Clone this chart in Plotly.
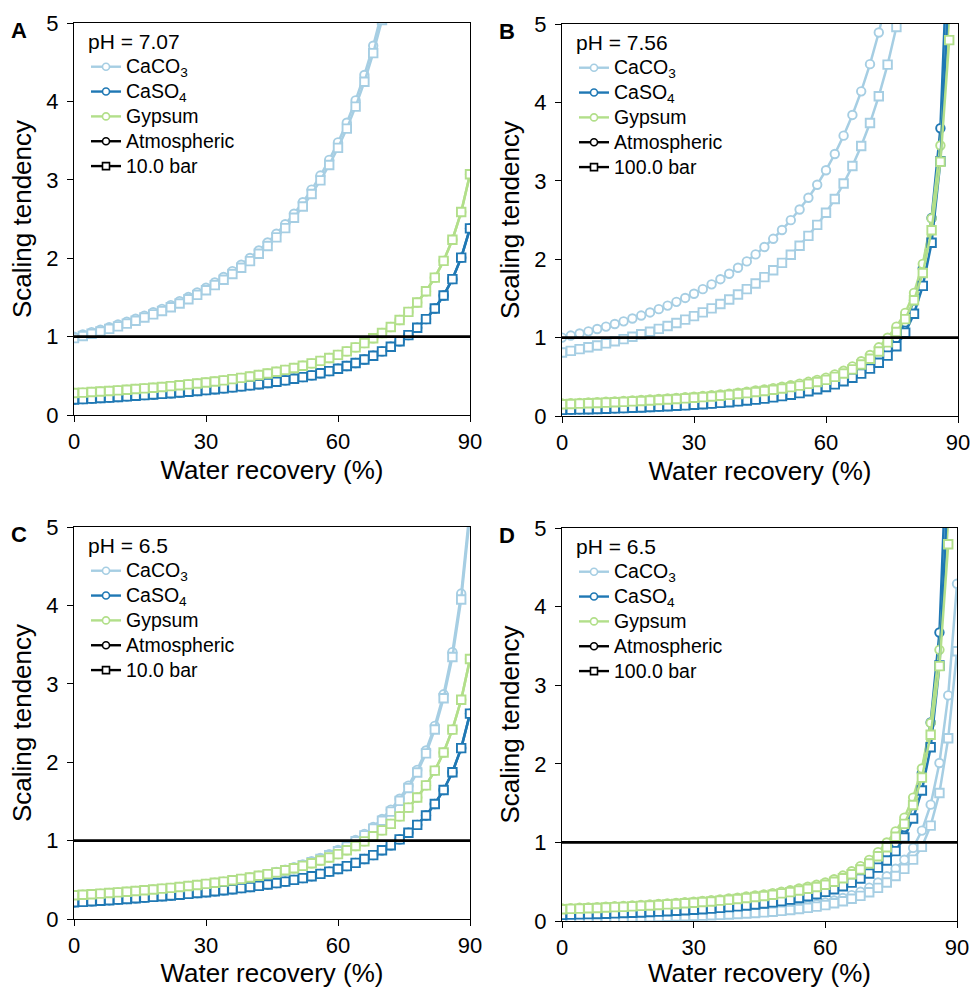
import plotly.graph_objects as go

# ---------------- data ----------------
RECOVERY = [0, 2, 4, 6, 8, 10, 12, 14, 16, 18, 20, 22, 24, 26, 28, 30, 32, 34, 36, 38,
            40, 42, 44, 46, 48, 50, 52, 54, 56, 58, 60, 62, 64, 66, 68, 70, 72, 74, 76, 78,
            80, 82, 84, 86, 88, 90]

# Panel A, pH 7.07 (atmospheric vs 10.0 bar)
A_CACO3_ATM = [1.000, 1.028, 1.057, 1.088, 1.120, 1.154, 1.190, 1.228, 1.268, 1.310, 1.354, 1.402,
               1.452, 1.506, 1.563, 1.624, 1.690, 1.760, 1.835, 1.916, 2.003, 2.098, 2.200, 2.312,
               2.433, 2.567, 2.713, 2.875, 3.054, 3.254, 3.477, 3.728, 4.013, 4.337, 4.710, 5.142, 5.648]
A_CACO3_HP = [0.980, 1.007, 1.036, 1.066, 1.098, 1.131, 1.166, 1.203, 1.243, 1.284, 1.327, 1.374,
              1.423, 1.476, 1.532, 1.592, 1.656, 1.725, 1.798, 1.878, 1.963, 2.056, 2.156, 2.266,
              2.384, 2.516, 2.659, 2.818, 2.993, 3.189, 3.407, 3.653, 3.933, 4.250, 4.616, 5.039, 5.535]
A_CASO4 = [0.197, 0.203, 0.209, 0.216, 0.222, 0.229, 0.237, 0.245, 0.253, 0.261, 0.269, 0.278,
           0.287, 0.297, 0.307, 0.317, 0.328, 0.339, 0.352, 0.365, 0.378, 0.392, 0.408, 0.424,
           0.442, 0.462, 0.483, 0.506, 0.532, 0.559, 0.590, 0.625, 0.663, 0.708, 0.755, 0.811,
           0.871, 0.940, 1.019, 1.112, 1.223, 1.358, 1.524, 1.733, 2.007, 2.380]
A_GYPSUM = [0.280, 0.286, 0.293, 0.300, 0.307, 0.314, 0.322, 0.331, 0.339, 0.348, 0.358, 0.368,
            0.379, 0.390, 0.402, 0.415, 0.428, 0.442, 0.457, 0.474, 0.491, 0.510, 0.530, 0.551,
            0.575, 0.600, 0.628, 0.658, 0.691, 0.727, 0.767, 0.812, 0.862, 0.917, 0.978, 1.046,
            1.123, 1.212, 1.315, 1.435, 1.578, 1.752, 1.966, 2.236, 2.589, 3.070]

# Panel B, pH 7.56 (atmospheric vs 100.0 bar)
B_CACO3_ATM = [1.000, 1.026, 1.052, 1.080, 1.110, 1.140, 1.173, 1.207, 1.243, 1.281, 1.321, 1.363,
               1.408, 1.456, 1.506, 1.560, 1.618, 1.679, 1.745, 1.815, 1.891, 1.972, 2.061, 2.156,
               2.260, 2.373, 2.498, 2.634, 2.784, 2.950, 3.135, 3.342, 3.576, 3.840, 4.141, 4.488,
               4.891, 5.365]
B_CACO3_HP = [0.810, 0.831, 0.853, 0.876, 0.900, 0.926, 0.953, 0.981, 1.011, 1.042, 1.075, 1.111,
              1.148, 1.187, 1.229, 1.274, 1.322, 1.373, 1.428, 1.486, 1.550, 1.618, 1.691, 1.772,
              1.859, 1.953, 2.057, 2.172, 2.298, 2.438, 2.593, 2.768, 2.965, 3.188, 3.443, 3.737,
              4.079, 4.482, 4.962, 5.542]
B_CASO4_ATM = [0.078, 0.081, 0.084, 0.087, 0.090, 0.094, 0.097, 0.101, 0.105, 0.110, 0.115, 0.120,
               0.126, 0.132, 0.139, 0.146, 0.153, 0.162, 0.171, 0.181, 0.192, 0.204, 0.217, 0.232,
               0.248, 0.266, 0.287, 0.309, 0.335, 0.364, 0.397, 0.436, 0.480, 0.531, 0.592, 0.664,
               0.751, 0.856, 0.993, 1.194, 1.475, 1.886, 2.526, 3.670, 6.500]
B_CASO4_HP = [0.078, 0.081, 0.084, 0.087, 0.090, 0.093, 0.097, 0.101, 0.105, 0.109, 0.114, 0.119,
              0.124, 0.130, 0.136, 0.143, 0.150, 0.158, 0.167, 0.176, 0.186, 0.197, 0.209, 0.222,
              0.237, 0.253, 0.272, 0.292, 0.315, 0.341, 0.370, 0.404, 0.443, 0.488, 0.541, 0.604,
              0.679, 0.770, 0.889, 1.063, 1.305, 1.660, 2.210, 3.250, 5.600]
B_GYPSUM_ATM = [0.160, 0.164, 0.168, 0.173, 0.177, 0.182, 0.187, 0.192, 0.198, 0.204, 0.210, 0.217,
                0.224, 0.231, 0.239, 0.247, 0.256, 0.265, 0.275, 0.286, 0.298, 0.311, 0.325, 0.339,
                0.355, 0.373, 0.392, 0.413, 0.436, 0.461, 0.490, 0.531, 0.578, 0.633, 0.698, 0.778,
                0.876, 0.999, 1.140, 1.315, 1.570, 1.940, 2.520, 3.450, 5.100]
B_GYPSUM_HP = [0.150, 0.154, 0.158, 0.163, 0.166, 0.171, 0.176, 0.180, 0.186, 0.192, 0.197, 0.204,
               0.211, 0.217, 0.225, 0.232, 0.241, 0.249, 0.259, 0.269, 0.280, 0.292, 0.306, 0.319,
               0.334, 0.351, 0.368, 0.388, 0.410, 0.433, 0.461, 0.499, 0.543, 0.595, 0.656, 0.731,
               0.823, 0.939, 1.072, 1.236, 1.476, 1.824, 2.369, 3.243, 4.794]

# Panel C, pH 6.5 (atmospheric vs 10.0 bar)
C_CACO3_ATM = [0.271, 0.278, 0.286, 0.294, 0.302, 0.310, 0.320, 0.329, 0.339, 0.350, 0.361, 0.373,
               0.386, 0.399, 0.414, 0.429, 0.445, 0.463, 0.481, 0.501, 0.523, 0.546, 0.572, 0.599,
               0.629, 0.661, 0.697, 0.736, 0.780, 0.828, 0.881, 0.942, 1.009, 1.086, 1.174, 1.276,
               1.395, 1.534, 1.701, 1.902, 2.150, 2.463, 2.866, 3.404, 4.151, 5.248]
C_CACO3_HP = [0.266, 0.273, 0.281, 0.288, 0.296, 0.305, 0.314, 0.323, 0.333, 0.344, 0.355, 0.366,
              0.379, 0.392, 0.406, 0.421, 0.437, 0.454, 0.473, 0.492, 0.514, 0.537, 0.561, 0.588,
              0.617, 0.649, 0.685, 0.723, 0.766, 0.813, 0.865, 0.925, 0.991, 1.067, 1.153, 1.253,
              1.370, 1.507, 1.670, 1.868, 2.112, 2.418, 2.815, 3.342, 4.076, 5.153]
C_CASO4 = [0.213, 0.219, 0.226, 0.233, 0.240, 0.247, 0.256, 0.265, 0.273, 0.282, 0.291, 0.300,
           0.310, 0.321, 0.332, 0.342, 0.354, 0.366, 0.380, 0.394, 0.408, 0.423, 0.441, 0.458,
           0.477, 0.499, 0.522, 0.546, 0.575, 0.604, 0.637, 0.675, 0.716, 0.765, 0.815, 0.876,
           0.941, 1.015, 1.101, 1.201, 1.321, 1.467, 1.646, 1.872, 2.180, 2.620]
C_GYPSUM = [0.302, 0.309, 0.316, 0.324, 0.332, 0.339, 0.348, 0.357, 0.366, 0.376, 0.387, 0.397,
            0.409, 0.421, 0.434, 0.448, 0.462, 0.477, 0.494, 0.512, 0.530, 0.551, 0.572, 0.595,
            0.621, 0.648, 0.678, 0.711, 0.746, 0.785, 0.828, 0.877, 0.931, 0.990, 1.056, 1.130,
            1.213, 1.309, 1.420, 1.550, 1.704, 1.892, 2.123, 2.415, 2.796, 3.316]

# Panel D, pH 6.5 (atmospheric vs 100.0 bar)
D_CACO3_ATM = [0.0360, 0.0375, 0.0391, 0.0409, 0.0427, 0.0447, 0.0468, 0.0490, 0.0515, 0.0541,
               0.0569, 0.0599, 0.0632, 0.0667, 0.0706, 0.0748, 0.0794, 0.0844, 0.0899, 0.0959,
               0.1026, 0.1100, 0.1182, 0.1273, 0.1376, 0.1491, 0.1621, 0.1769, 0.1938, 0.2131,
               0.2356, 0.2617, 0.2924, 0.3287, 0.3722, 0.4248, 0.4895, 0.5697, 0.665, 0.780,
               0.930, 1.150, 1.480, 2.010, 2.870, 4.290]
D_CACO3_HP = [0.0310, 0.0323, 0.0336, 0.0352, 0.0367, 0.0384, 0.0402, 0.0421, 0.0443, 0.0465,
              0.0489, 0.0515, 0.0544, 0.0574, 0.0607, 0.0643, 0.0683, 0.0726, 0.0773, 0.0825,
              0.0882, 0.0946, 0.1017, 0.1095, 0.1183, 0.1282, 0.1394, 0.1521, 0.1667, 0.1833,
              0.2026, 0.2251, 0.2515, 0.2827, 0.3201, 0.3653, 0.4210, 0.4899, 0.5719, 0.663,
              0.781, 0.943, 1.214, 1.628, 2.325, 3.432]
D_CASO4_ATM = B_CASO4_ATM
D_CASO4_HP = B_CASO4_HP
D_GYPSUM_ATM = B_GYPSUM_ATM
D_GYPSUM_HP = B_GYPSUM_HP

THRESHOLD = 1.0
PANEL_LABELS = ["A", "B", "C", "D"]
PH_LABELS = ["pH = 7.07", "pH = 7.56", "pH = 6.5", "pH = 6.5"]
PRESSURE_LABELS = ["10.0 bar", "100.0 bar", "10.0 bar", "100.0 bar"]
MINERALS = ["CaCO<sub>3</sub>", "CaSO<sub>4</sub>", "Gypsum"]
X_TICKS = [0, 30, 60, 90]
Y_TICKS = [0, 1, 2, 3, 4, 5]

# ---------------- styling ----------------
COLORS = ["#a6cee3", "#1f78b4", "#b2df8a"]
FONT = "Liberation Sans, Arial, sans-serif"
W, H = 971, 988
LEGEND_TEXT_PX = 19.5

# plot-area pixel boxes (left, right, top, bottom)
BOXES = [(74, 470, 23, 415), (562, 958, 24, 416), (74, 470, 527, 919), (562, 957, 528, 921)]

panels = [
    ([A_CACO3_ATM, A_CASO4, A_GYPSUM], [A_CACO3_HP, A_CASO4, A_GYPSUM]),
    ([B_CACO3_ATM, B_CASO4_ATM, B_GYPSUM_ATM], [B_CACO3_HP, B_CASO4_HP, B_GYPSUM_HP]),
    ([C_CACO3_ATM, C_CASO4, C_GYPSUM], [C_CACO3_HP, C_CASO4, C_GYPSUM]),
    ([D_CACO3_ATM, D_CASO4_ATM, D_GYPSUM_ATM], [D_CACO3_HP, D_CASO4_HP, D_GYPSUM_HP]),
]

fig = go.Figure()
layout = {}
annotations = []


def big(txt):
    return "<span style='font-size:%spx'>%s</span>" % (LEGEND_TEXT_PX, txt)


for i, (atm, hp) in enumerate(panels):
    n = "" if i == 0 else str(i + 1)
    xa, ya = "x" + n, "y" + n
    leg = "legend" + n

    for series, symbol in ((atm, "circle"), (hp, "square")):
        for ys, color in zip(series, COLORS):
            fig.add_trace(go.Scatter(
                x=RECOVERY[:len(ys)], y=ys, xaxis=xa, yaxis=ya, mode="lines+markers",
                line=dict(color=color, width=2.5),
                marker=dict(symbol=symbol, size=8.5, color="white",
                            line=dict(color=color, width=1.9)),
                showlegend=False, hoverinfo="skip"))
    fig.add_trace(go.Scatter(
        x=[RECOVERY[0], RECOVERY[-1]], y=[THRESHOLD, THRESHOLD], xaxis=xa, yaxis=ya,
        mode="lines", line=dict(color="black", width=2.6), showlegend=False, hoverinfo="skip"))

    # legend entries
    entries = [(m, c, "circle") for m, c in zip(MINERALS, COLORS)]
    entries += [("Atmospheric", "black", "circle"), (PRESSURE_LABELS[i], "black", "square")]
    for name, color, symbol in entries:
        fig.add_trace(go.Scatter(
            x=[None], y=[None], xaxis=xa, yaxis=ya, mode="lines+markers", name=big(name),
            legend=leg, line=dict(color=color, width=2.4),
            marker=dict(symbol=symbol, size=7, color="white", line=dict(color=color, width=1.6))))

    l, r, t, b = BOXES[i]
    axis_common = dict(showline=True, linecolor="black", linewidth=1.4, mirror=True,
                       ticks="outside", ticklen=6, tickwidth=1.3, tickcolor="black",
                       showgrid=False, zeroline=False, automargin=False,
                       tickfont=dict(family=FONT, size=22, color="black"))
    layout["xaxis" + n] = dict(
        axis_common, domain=[l / W, r / W], anchor=ya, range=[0, 90],
        tickvals=X_TICKS, title=dict(text="Water recovery (%)", standoff=8,
                                      font=dict(family=FONT, size=26, color="black")))
    layout["yaxis" + n] = dict(
        axis_common, domain=[1 - b / H, 1 - t / H], anchor=xa, range=[0, 5],
        tickvals=Y_TICKS, ticklabelstandoff=4,
        title=dict(text="Scaling tendency", standoff=7,
                   font=dict(family=FONT, size=26, color="black")))
    layout[leg] = dict(
        x=(l + 12) / W, y=1 - (t - 1) / H, xanchor="left", yanchor="top",
        xref="paper", yref="paper", bgcolor="rgba(0,0,0,0)", borderwidth=0,
        font=dict(family=FONT, size=16.8, color="black"),
        title=dict(text=PH_LABELS[i], font=dict(family=FONT, size=21, color="black")),
        tracegroupgap=0, traceorder="normal")

    annotations.append(dict(
        text="<b>%s</b>" % PANEL_LABELS[i], x=(l - 55) / W, y=1 - (t - 7) / H,
        xref="paper", yref="paper", xanchor="center", yanchor="top", showarrow=False,
        font=dict(family=FONT, size=22, color="black")))

fig.update_layout(
    width=W, height=H, margin=dict(l=0, r=0, t=0, b=0),
    paper_bgcolor="white", plot_bgcolor="white",
    annotations=annotations, **layout)

fig.write_html("out.html", config={"displayModeBar": False},
               post_script="document.body.style.margin='0';document.body.style.overflow='hidden';")
